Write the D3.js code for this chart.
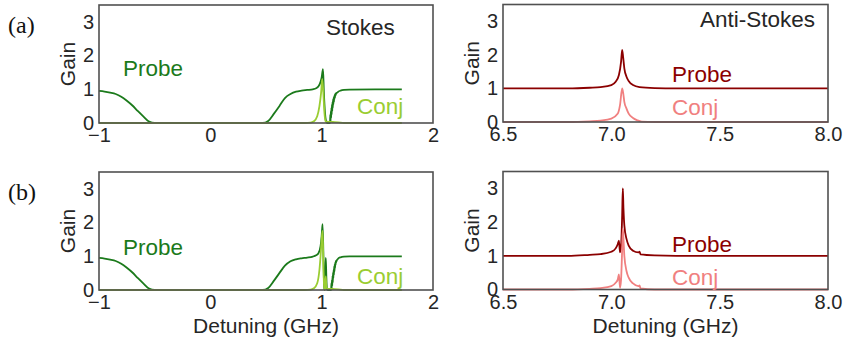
<!DOCTYPE html>
<html>
<head>
<meta charset="utf-8">
<script src="https://cdnjs.cloudflare.com/ajax/libs/d3/7.8.5/d3.min.js"></script>
<style>
  body { margin: 0; background: #fff; }
  svg { display: block; }
  .tick text { font-family: "Liberation Sans", Arial, sans-serif; font-size: 20px; fill: #262626; }
  .lbl { font-family: "Liberation Sans", Arial, sans-serif; fill: #262626; }
</style>
</head>
<body>
<div id="chart"></div>
<script>
// ---- data ----
const yTicks = [0, 1, 2, 3];
const stokesTicks = [-1, 0, 1, 2];
const antiTicks = [6.5, 7.0, 7.5, 8.0];

// Stokes, row (a)
const stokesAProbeX = [-1, -0.95, -0.9, -0.85, -0.8, -0.75, -0.7, -0.65, -0.6, -0.55, -0.5, 0, 0.47, 0.52, 0.57, 0.62, 0.67, 0.72, 0.77, 0.82, 0.87, 0.92, 0.95, 0.97, 0.99, 1.0, 1.012, 1.02, 1.03, 1.04, 1.05,
  1.075, 1.0775, 1.08, 1.0825, 1.085, 1.0875, 1.09, 1.0925, 1.095, 1.0975, 1.1, 1.1025, 1.105, 1.1075, 1.11, 1.1125, 1.115, 1.1175, 1.12, 1.1225, 1.125, 1.13,
  1.14, 1.15, 1.17, 1.2, 1.25, 1.72];
const stokesAProbeY = [0.95, 0.93, 0.9, 0.86, 0.78, 0.66, 0.52, 0.35, 0.19, 0.04, 0, 0, 0, 0.06, 0.27, 0.5, 0.74, 0.86, 0.93, 0.96, 0.98, 1.0, 1.03, 1.08, 1.22, 1.35, 1.6, 0.9, 0.3, 0.05, 0,
  0, 0.25, 0.05, 0.35, 0.15, 0.45, 0.25, 0.55, 0.35, 0.62, 0.45, 0.7, 0.55, 0.75, 0.62, 0.8, 0.7, 0.84, 0.76, 0.87, 0.82, 0.88,
  0.9, 0.93, 0.96, 0.98, 0.99, 1.0];
const stokesAConjX = [-1, 0.85, 0.9, 0.93, 0.96, 0.98, 0.995, 1.005, 1.015, 1.025, 1.035, 1.05, 1.1, 1.15, 1.2, 1.72];
const stokesAConjY = [0, 0, 0.01, 0.05, 0.2, 0.5, 0.9, 1.3, 0.9, 0.3, 0.05, 0.04, 0.03, 0.02, 0, 0];

// Stokes, row (b)
const stokesBProbeX = [-1, -0.95, -0.9, -0.85, -0.8, -0.75, -0.7, -0.65, -0.6, -0.55, -0.5, 0, 0.47, 0.52, 0.57, 0.62, 0.67, 0.72, 0.77, 0.82, 0.87, 0.92, 0.95, 0.97, 0.99, 1.0, 1.008, 1.016, 1.022, 1.028, 1.033, 1.037, 1.042, 1.048, 1.055, 1.085,
  1.0875, 1.09, 1.0925, 1.095, 1.0975, 1.1, 1.1025, 1.105, 1.1075, 1.11, 1.1125, 1.115, 1.1175, 1.12, 1.1225, 1.125, 1.1275, 1.13, 1.135,
  1.14, 1.15, 1.17, 1.2, 1.25, 1.72];
const stokesBProbeY = [0.95, 0.93, 0.9, 0.86, 0.78, 0.66, 0.52, 0.35, 0.19, 0.04, 0, 0, 0, 0.06, 0.27, 0.5, 0.72, 0.85, 0.91, 0.94, 0.96, 0.99, 1.03, 1.08, 1.3, 1.6, 1.95, 1.0, 0.1, 0, 0.5, 0.95, 0.4, 0.02, 0, 0,
  0.2, 0.05, 0.3, 0.12, 0.42, 0.22, 0.52, 0.35, 0.6, 0.45, 0.7, 0.55, 0.76, 0.65, 0.82, 0.74, 0.86, 0.82, 0.88,
  0.9, 0.94, 0.97, 0.99, 1.0, 1.0];
const stokesBConjX = [-1, 0.85, 0.9, 0.93, 0.96, 0.98, 0.99, 1.0, 1.008, 1.016, 1.022, 1.028, 1.033, 1.037, 1.042, 1.05, 1.1, 1.15, 1.2, 1.72];
const stokesBConjY = [0, 0, 0.01, 0.05, 0.2, 0.6, 1.0, 1.5, 1.75, 0.7, 0.08, 0, 0.2, 0.4, 0.1, 0.04, 0.03, 0.02, 0, 0];

// Anti-Stokes, row (a)
const antiAProbeX = [6.5, 6.8, 6.9, 6.95, 7.0, 7.02, 7.035, 7.045, 7.05, 7.055, 7.06, 7.07, 7.08, 7.1, 7.13, 7.2, 7.3, 8.0];
const antiAProbeY = [1.0, 1.0, 1.02, 1.04, 1.1, 1.2, 1.4, 1.8, 2.15, 1.9, 1.6, 1.35, 1.22, 1.1, 1.04, 1.01, 1.0, 1.0];
const antiAConjX = [6.5, 6.8, 6.9, 6.95, 7.0, 7.03, 7.04, 7.05, 7.055, 7.06, 7.07, 7.08, 7.1, 7.12, 7.14, 7.2, 8.0];
const antiAConjY = [0, 0, 0.02, 0.04, 0.1, 0.25, 0.5, 1.0, 0.85, 0.6, 0.4, 0.25, 0.12, 0.05, 0.01, 0, 0];

// Anti-Stokes, row (b)
const antiBProbeX = [6.5, 6.8, 6.9, 6.95, 7.0, 7.02, 7.03, 7.035, 7.04, 7.045, 7.05, 7.053, 7.056, 7.06, 7.07, 7.08, 7.1, 7.125, 7.13, 7.135, 7.2, 7.3, 8.0];
const antiBProbeY = [1.0, 1.0, 1.03, 1.05, 1.12, 1.22, 1.35, 1.45, 1.1, 1.3, 2.2, 3.0, 2.4, 1.9, 1.5, 1.3, 1.15, 1.1, 1.12, 1.04, 1.01, 1.0, 1.0];
const antiBConjX = [6.5, 6.8, 6.9, 6.95, 7.0, 7.02, 7.03, 7.035, 7.04, 7.045, 7.05, 7.053, 7.056, 7.06, 7.07, 7.08, 7.1, 7.125, 7.13, 7.135, 7.2, 8.0];
const antiBConjY = [0, 0, 0.02, 0.04, 0.1, 0.2, 0.3, 0.45, 0.05, 0.3, 1.2, 1.8, 1.5, 1.0, 0.55, 0.35, 0.18, 0.1, 0.12, 0.03, 0, 0];

// ---- layout ----
const W = 845, H = 344;

const svg = d3.select("#chart").append("svg")
  .attr("width", W).attr("height", H);

function zip(xs, ys) { return xs.map((x, i) => [x, ys[i]]); }

function panel(opt) {
  const x = d3.scaleLinear().domain(opt.xDomain).range([opt.left, opt.right]);
  const y = d3.scaleLinear().domain([0, 3.5]).range([opt.bottom, opt.top]);
  const g = svg.append("g");

  const line = d3.line().x(d => x(d[0])).y(d => y(d[1])).curve(d3.curveMonotoneX);
  opt.series.forEach(s => {
    g.append("path")
      .datum(zip(s.x, s.y))
      .attr("fill", "none")
      .attr("stroke", s.color)
      .attr("stroke-width", 1.8)
      .attr("stroke-linejoin", "round")
      .attr("d", line);
  });

  // frame
  g.append("rect")
    .attr("x", opt.left).attr("y", opt.top)
    .attr("width", opt.right - opt.left).attr("height", opt.bottom - opt.top)
    .attr("fill", "none").attr("stroke", "#505050").attr("stroke-width", 1.6);

  const ya = g.append("g").attr("transform", `translate(${opt.left},0)`)
    .call(d3.axisLeft(y).tickValues(yTicks).tickSize(0).tickPadding(5).tickFormat(d3.format("d")));
  const xa = g.append("g").attr("transform", `translate(0,${opt.bottom})`)
    .call(d3.axisBottom(x).tickValues(opt.xTicks).tickSize(0).tickPadding(5).tickFormat(d3.format(opt.xFmt)));
  [ya, xa].forEach(a => {
    a.select(".domain").remove();
    a.attr("font-family", null).attr("font-size", null);
  });

  g.append("text").attr("class", "lbl")
    .attr("transform", `translate(${opt.left - 24},${(opt.top + opt.bottom) / 2}) rotate(-90)`)
    .attr("text-anchor", "middle").attr("font-size", 21)
    .text("Gain");

  if (opt.xLabel) {
    g.append("text").attr("class", "lbl")
      .attr("x", (opt.left + opt.right) / 2).attr("y", opt.bottom + 43)
      .attr("text-anchor", "middle").attr("font-size", 21)
      .text(opt.xLabel);
  }

  opt.notes.forEach(n => {
    g.append("text").attr("class", "lbl")
      .attr("x", n.x).attr("y", n.y)
      .attr("text-anchor", n.anchor || "start")
      .attr("font-size", 22.5)
      .style("fill", n.color || "#262626")
      .text(n.text);
  });
}

const dGreen = "#1b7a1b", lGreen = "#9acd32", dRed = "#8b0000", lRed = "#f08080";

panel({
  left: 99, right: 433, top: 5, bottom: 123,
  xDomain: [-1, 2], xTicks: stokesTicks, xFmt: "d",
  series: [
    { x: stokesAProbeX, y: stokesAProbeY, color: dGreen },
    { x: stokesAConjX, y: stokesAConjY, color: lGreen }
  ],
  notes: [
    { text: "Stokes", x: 326, y: 35 },
    { text: "Probe", x: 123, y: 76, color: dGreen },
    { text: "Conj", x: 357, y: 114, color: lGreen }
  ]
});
panel({
  left: 503, right: 828, top: 4.5, bottom: 122,
  xDomain: [6.5, 8.0], xTicks: antiTicks, xFmt: ".1f",
  series: [
    { x: antiAProbeX, y: antiAProbeY, color: dRed },
    { x: antiAConjX, y: antiAConjY, color: lRed }
  ],
  notes: [
    { text: "Anti-Stokes", x: 815, y: 27, anchor: "end" },
    { text: "Probe", x: 672, y: 82, color: dRed },
    { text: "Conj", x: 672, y: 115, color: lRed }
  ]
});
panel({
  left: 99, right: 433, top: 172, bottom: 290,
  xDomain: [-1, 2], xTicks: stokesTicks, xFmt: "d", xLabel: "Detuning (GHz)",
  series: [
    { x: stokesBProbeX, y: stokesBProbeY, color: dGreen },
    { x: stokesBConjX, y: stokesBConjY, color: lGreen }
  ],
  notes: [
    { text: "Probe", x: 123, y: 255, color: dGreen },
    { text: "Conj", x: 357, y: 284, color: lGreen }
  ]
});
panel({
  left: 503, right: 828, top: 171.5, bottom: 289.5,
  xDomain: [6.5, 8.0], xTicks: antiTicks, xFmt: ".1f", xLabel: "Detuning (GHz)",
  series: [
    { x: antiBProbeX, y: antiBProbeY, color: dRed },
    { x: antiBConjX, y: antiBConjY, color: lRed }
  ],
  notes: [
    { text: "Probe", x: 672, y: 252, color: dRed },
    { text: "Conj", x: 672, y: 285, color: lRed }
  ]
});

// row tags
svg.append("text").attr("x", 8).attr("y", 33)
  .attr("font-family", '"Liberation Serif", "Times New Roman", serif').attr("font-size", 24).attr("fill", "#111")
  .text("(a)");
svg.append("text").attr("x", 8).attr("y", 200)
  .attr("font-family", '"Liberation Serif", "Times New Roman", serif').attr("font-size", 24).attr("fill", "#111")
  .text("(b)");
</script>
</body>
</html>
